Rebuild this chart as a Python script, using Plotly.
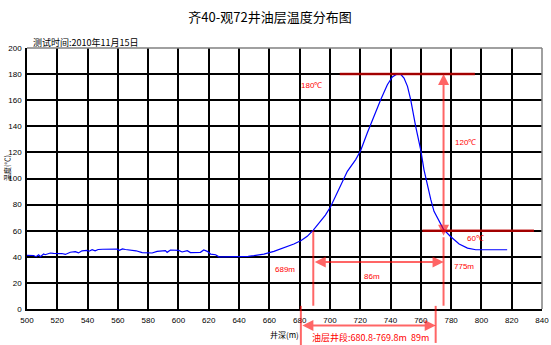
import plotly.graph_objects as go

# Well depth (m) and measured temperature (°C)
depth = [
    500, 502, 504.4, 506, 507.7, 508.8, 511, 512, 515.4, 517.5, 519.8, 523, 525.3,
    528.6, 531.9, 534, 536.3, 539.6, 541, 543, 545, 547, 550, 553, 556, 559.5, 561,
    563, 565, 569.4, 572, 576, 580, 582.6, 585.9, 591.4, 592.5, 594.7, 600.2, 602.4,
    605.8, 607.9, 614.5, 616.7, 619, 621.2, 624.5, 626.7, 630, 635, 640, 643.2, 646,
    649.8, 656.4, 663, 669.6, 676.2, 681, 685, 689, 693, 697, 700.5, 705, 711.5, 717,
    720.3, 724.7, 728, 733.5, 737.9, 741.2, 743.5, 745.6, 747, 748.9, 751.2, 753.3,
    756.6, 760, 762.1, 764.4, 766.6, 768.7, 772, 775, 779.6, 785.3, 790.8, 796.3, 817,
]
temp = [
    41.1, 41.0, 41.0, 40.1, 41.6, 40.1, 42.1, 41.6, 42.9, 42.6, 42.5, 42.5, 41.8,
    43.5, 44.0, 43.0, 44.6, 44.9, 44.3, 45.5, 44.6, 45.6, 45.8, 45.9, 45.9, 45.9, 45.0,
    46.0, 45.6, 45.2, 44.6, 43.2, 43.0, 42.9, 44.2, 44.7, 43.4, 45.2, 44.9, 43.7,
    44.7, 43.2, 43.4, 45.2, 44.2, 42.1, 41.6, 40.0, 40.0, 40.0, 40.0, 40.0, 40.4,
    40.9, 42.1, 44.2, 46.8, 49.8, 52.5, 55.7, 60.5, 66.0, 72.0, 78.5, 90.0, 105.5, 114.5,
    121.5, 135.0, 145.0, 160.4, 171.9, 177.8, 179.5, 180.1, 179.5, 177.0, 170.6, 160.4,
    139.9, 121.5, 106.7, 94.0, 83.8, 74.8, 67.1, 61.0, 55.6, 49.8, 46.7, 45.4, 45.4,
]

x_ticks = list(range(500, 841, 20))
y_ticks = list(range(0, 201, 20))

# Key readings
t_peak, t_cut = 180, 60
d_top, d_bot = 689, 775
layer_top, layer_bot = 680.8, 769.8

RED = "#ff0000"
RED_SOFT = "rgba(255,0,0,0.6)"
RED_DARK = "rgba(190,0,0,0.85)"
CJK = "Noto Sans CJK SC"

fig = go.Figure()
fig.add_trace(go.Scatter(
    x=depth, y=temp, mode="lines",
    line=dict(color="#0000ff", width=1.2),
    hoverinfo="skip", showlegend=False,
))

axis_common = dict(
    showgrid=True, gridcolor="#000000", gridwidth=1.6,
    showline=True, linecolor="#000000", linewidth=1.6,
    ticks="", zeroline=False, automargin=False,
    tickfont=dict(family="Liberation Sans, Arial", size=8, color="#000000"),
)
fig.update_xaxes(range=[500, 840], tickvals=x_ticks, ticklabelstandoff=3, **axis_common)
fig.update_yaxes(range=[0, 200], tickvals=y_ticks, ticklabelstandoff=2, **axis_common)

shapes = [
    # grey frame on the top and right edges
    dict(type="line", xref="paper", yref="paper", x0=0, x1=1, y0=1, y1=1,
         line=dict(color="#808080", width=1.5), layer="above"),
    dict(type="line", xref="paper", yref="paper", x0=1, x1=1, y0=0, y1=1,
         line=dict(color="#808080", width=1.5), layer="above"),
    # reference temperature lines
    dict(type="line", xref="x", yref="y", x0=706.5, x1=795.7, y0=t_peak, y1=t_peak,
         line=dict(color=RED_DARK, width=2.5), layer="above"),
    dict(type="line", xref="x", yref="y", x0=761, x1=834.7, y0=t_cut, y1=t_cut,
         line=dict(color=RED_DARK, width=2.5), layer="above"),
    # extension lines at the 60 °C depths
    dict(type="line", xref="x", yref="y", x0=d_top, x1=d_top, y0=t_cut, y1=2.5,
         line=dict(color=RED_SOFT, width=2), layer="above"),
    dict(type="line", xref="x", yref="y", x0=d_bot, x1=d_bot, y0=55, y1=2.5,
         line=dict(color=RED_SOFT, width=2), layer="above"),
    # oil layer interval markers below the axis
    dict(type="line", xref="x", yref="paper", x0=layer_top, x1=layer_top, y0=0.012, y1=-0.14,
         line=dict(color=RED_SOFT, width=2), layer="above"),
    dict(type="line", xref="x", yref="paper", x0=layer_bot, x1=layer_bot, y0=0.012, y1=-0.13,
         line=dict(color=RED_SOFT, width=2), layer="above"),
]

arrow_style = dict(text="", showarrow=True, arrowhead=2, arrowsize=1.1, arrowwidth=2,
                   arrowcolor=RED_SOFT, arrowside="end+start", standoff=0, startstandoff=0)

annotations = [
    dict(x=0.008, y=1.022, xref="paper", yref="paper", xanchor="left", yanchor="middle",
         text="测试时间:2010年11月15日", showarrow=False,
         font=dict(family=CJK, size=9, color="#000000")),
    dict(x=-0.039, y=0.54, xref="paper", yref="paper", textangle=-90,
         xanchor="center", yanchor="middle",
         text="温度(℃)", showarrow=False,
         font=dict(family=CJK, size=7, color="#000000")),
    dict(x=670, y=-0.096, xref="x", yref="paper", yanchor="middle",
         text="井深(m)", showarrow=False,
         font=dict(family=CJK, size=8, color="#000000")),
    # dimension arrows
    dict(x=d_bot, y=t_peak, ax=d_bot, ay=55, xref="x", yref="y", axref="x", ayref="y", **arrow_style),
    dict(x=d_bot, y=36, ax=d_top, ay=36, xref="x", yref="y", axref="x", ayref="y", **arrow_style),
    dict(x=layer_bot, y=-0.063, ax=layer_top, ay=0, xref="x", yref="paper",
         axref="x", ayref="pixel", **arrow_style),
]

red_labels = [
    (687.9, 171.1, f"{t_peak}℃"),
    (789.7, 127.7, f"{t_peak - t_cut}℃"),
    (796.3, 54.4, f"{t_cut}℃"),
    (670.4, 30.1, f"{d_top}m"),
    (728.0, 25.0, f"{d_bot - d_top}m"),
    (788.6, 32.6, f"{d_bot}m"),
]
for lx, ly, txt in red_labels:
    annotations.append(dict(x=lx, y=ly, xref="x", yref="y", text=txt, showarrow=False,
                            font=dict(family="Liberation Sans, Arial", size=8, color=RED)))

annotations.append(dict(
    x=726.8, y=-0.11, xref="x", yref="paper", yanchor="middle", showarrow=False,
    text=f"油层井段:{layer_top}-{layer_bot}m  {round(layer_bot - layer_top)}m",
    font=dict(family=CJK, size=9, color=RED)))

fig.update_layout(
    width=551, height=345,
    margin=dict(l=27, r=9, t=48, b=36, autoexpand=False),
    paper_bgcolor="#ffffff", plot_bgcolor="#ffffff",
    title=dict(text="齐40-观72井油层温度分布图", x=0.49, xanchor="center",
               y=0.948, yanchor="middle", yref="container",
               font=dict(family=CJK, size=13, color="#000000")),
    shapes=shapes, annotations=annotations,
)

fig.write_html("out.html")
